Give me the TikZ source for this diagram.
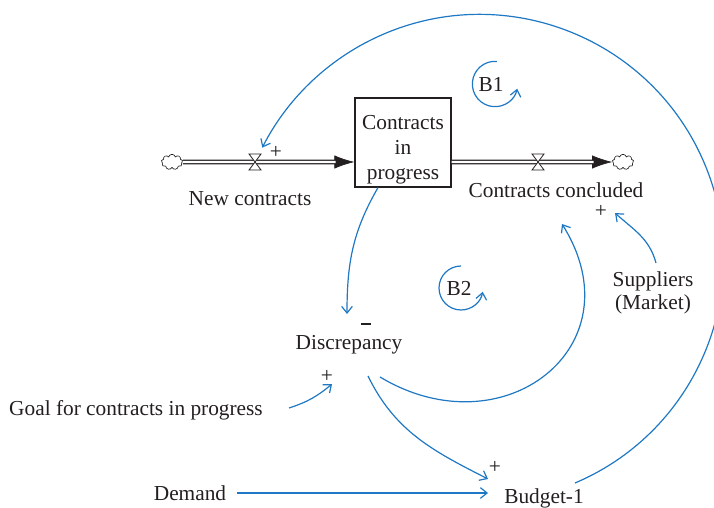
\documentclass[tikz,border=0pt]{standalone}
\usepackage{fontspec}
\setmainfont{Liberation Serif}
\usetikzlibrary{arrows.meta,calc,shapes.symbols}
\definecolor{linkblue}{RGB}{30,120,195}
\definecolor{ink}{RGB}{35,31,32}

\begin{document}
\begin{tikzpicture}[x=0.75pt,y=0.75pt,
  every node/.style={font=\fontsize{16}{18.75}\selectfont,text=ink,inner sep=0pt},
  link/.style={linkblue,line width=0.9pt,-{Straight Barb[length=5pt,width=8pt]}},
  pipe/.style={draw=ink,line width=0.8pt,double=white,double distance=1.8pt},
  pipehead/.style={ink,line width=0.5pt,-{Latex[length=15pt,width=10pt]}},
  sign/.style={font=\fontsize{16}{16}\selectfont},
  cloudy/.style={cloud,cloud puffs=9,aspect=1.4,draw=ink,fill=white,line width=0.5pt,minimum width=16pt,minimum height=11.5pt},
  valve/.pic={\draw[ink,fill=white,line width=0.6pt] (-6,8)--(6,8)--(-6,-8)--(6,-8)--cycle;}]
\useasboundingbox (0,0) rectangle (714,507);

% stock and flows
\node[draw=ink,line width=0.9pt,minimum width=72pt,minimum height=66.75pt,align=center] (stock) at (403,364.5) {\rule{0pt}{21.5pt}Contracts\\in\\progress};
\node[cloudy] (srcL) at (172,345) {};
\node[cloudy] (sinkR) at (623,345) {};
\draw[pipehead] (srcL.east) -- (srcL -| stock.west);
\draw[pipe,shorten >=14pt] (srcL.east) -- (srcL -| stock.west);
\draw[pipehead] (sinkR -| stock.east) -- (sinkR.west);
\draw[pipe,shorten >=14pt] (sinkR -| stock.east) -- (sinkR.west);
\coordinate (inflow) at (255,345);
\coordinate (outflow) at (538,345);
\pic at (inflow) {valve};
\pic at (outflow) {valve};

% variables
\node (newc) at (250,308) {New contracts};
\node (concl) at (556,317) {Contracts concluded};
\node (disc) at (349,162) {Discrepancy};
\node (goal) at (136,97) {Goal for contracts in progress};
\node (demand) at (190,14) {Demand};
\node (budget) at (544,9) {Budget-1};
\node[align=center,font=\fontsize{16}{17.5}\selectfont] (supp) at (653,214) {Suppliers\\(Market)};

% polarities
\node[sign] (plin) at (276,355) {+};
\node[sign] (plconcl) at (601,296) {+};
\node[sign] (plgoal) at (327,131) {+};
\node[sign] (plbudget) at (495,40) {+};
\node[fill=ink,minimum width=7pt,minimum height=1.8pt] (mndisc) at (366,183) {};

% loops
\node (b1) at (491,423) {B1};
\node (b2) at (459,219) {B2};
\draw[link] ($(b1)+(4,0)+(85:17pt)$) arc[start angle=85,end angle=348,radius=17pt];
\draw[link] ($(b2)+(2,0)+(90:16.5pt)$) arc[start angle=90,end angle=350,radius=16.5pt];

% causal links
\draw[link] ($(stock.south)+(-25,0)$) to[out=-120,in=90] ($(disc)+(-2,31)$);
\draw[link] ($(disc)+(31,-32)$) to[out=-31,in=-58,looseness=1.55] ($(concl)+(6,-34)$);
\draw[link] ($(disc)+(19,-31)$) to[out=-64,in=153] ($(budget)+(-56,19)$);
\draw[link] ($(goal.east)+(26,2)$) to[out=18,in=-140] ($(disc)+(-17,-39)$);
\draw[link] ($(demand.east)+(11,0)$) -- ($(budget)+(-56,5)$);
\draw[link] ($(supp)+(3,30)$) to[out=105,in=-42] ($(concl)+(59,-23)$);
\draw[link] ($(budget)+(31,15)$) arc[start angle=-67,end angle=153,radius=183pt];
\end{tikzpicture}
\end{document}
